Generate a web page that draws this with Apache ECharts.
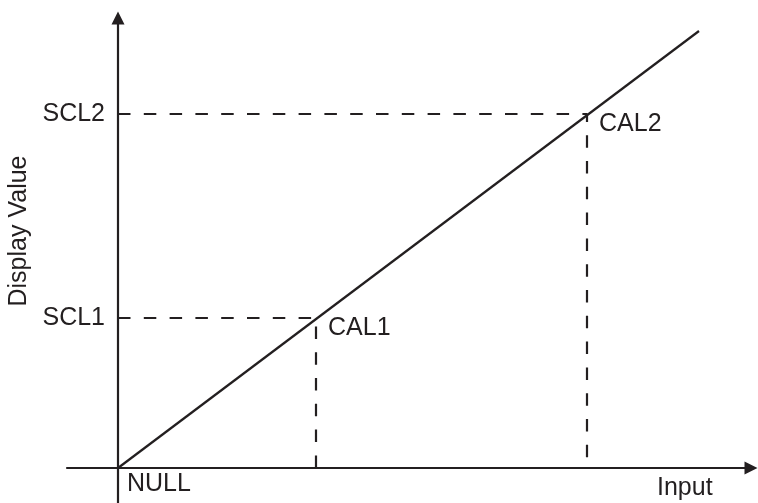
<!DOCTYPE html>
<html>
<head>
    <meta charset="utf-8">
    <title>Scaling</title>
    <script src="https://cdn.jsdelivr.net/npm/echarts@6/dist/echarts.min.js"></script>
    <style>
        html, body { margin: 0; padding: 0; background: #fff; }
        #chart { width: 758px; height: 503px; }
    </style>
</head>
<body>
<div id="chart"></div>
<script>
    // 数据 (任意单位, 原点 = NULL)
    var lineX = [0, 581];
    var lineY = [0, 437];
    var calInput = [198, 469];
    var sclValue = [150, 354];
    var calNames = ['CAL1', 'CAL2'];
    var sclNames = ['SCL1', 'SCL2'];

    var ink = '#231f20';
    var font = 'Liberation Sans, Arial, Helvetica, sans-serif';
    var lw = 2.2;

    var chart = echarts.init(document.getElementById('chart'), null, {renderer: 'canvas'});

    // 虚线: 从纵轴到标定点再到横轴
    var dashSeries = calInput.map(function (x, i) {
        return {
            type: 'line',
            data: [[0, sclValue[i]], [x, sclValue[i]], [x, 0]],
            symbol: 'none',
            silent: true,
            lineStyle: {color: ink, width: lw, type: [12.5, 13.3]},
            z: 2
        };
    });

    var option = {
        animation: false,
        grid: {left: 67, right: 7, top: 18, bottom: 0, containLabel: false, outerBoundsMode: 'none'},
        xAxis: {
            type: 'value',
            min: -51,
            max: 633,
            splitLine: {show: false},
            axisTick: {show: false},
            axisLabel: {show: false},
            axisLine: {
                onZero: true,
                symbol: ['none', 'triangle'],
                symbolSize: [13, 13],
                lineStyle: {color: ink, width: lw}
            }
        },
        yAxis: {
            type: 'value',
            min: -35,
            max: 450,
            splitLine: {show: false},
            axisTick: {show: false},
            axisLabel: {
                customValues: sclValue,
                formatter: function (v) {
                    return sclNames[sclValue.indexOf(v)];
                },
                color: ink,
                fontFamily: font,
                fontSize: 25,
                margin: -38
            },
            axisLine: {
                onZero: true,
                symbol: ['none', 'triangle'],
                symbolSize: [13, 13],
                lineStyle: {color: ink, width: lw}
            }
        },
        series: dashSeries.concat([
            {
                type: 'line',
                data: [[lineX[0], lineY[0]], [lineX[1], lineY[1]]],
                symbol: 'none',
                lineStyle: {color: ink, width: lw},
                z: 3
            },
            {
                type: 'scatter',
                data: calInput.map(function (x, i) { return [x, sclValue[i], calNames[i]]; }),
                symbolSize: 0,
                itemStyle: {opacity: 1},
                label: {
                    show: true,
                    position: 'right',
                    distance: 12,
                    offset: [0, 10],
                    formatter: function (p) { return p.data[2]; },
                    color: ink,
                    fontFamily: font,
                    fontSize: 25
                },
                z: 4
            }
        ]),
        graphic: [
            {
                type: 'text', x: 127, y: 484,
                style: {text: 'NULL', fill: ink, font: '25px ' + font, verticalAlign: 'middle'}
            },
            {
                type: 'text', x: 657, y: 488,
                style: {text: 'Input', fill: ink, font: '25px ' + font, verticalAlign: 'middle'}
            },
            {
                type: 'text', x: 19, y: 231, rotation: Math.PI / 2,
                style: {text: 'Display Value', fill: ink, font: '25px ' + font, align: 'center', verticalAlign: 'middle'}
            }
        ]
    };

    chart.setOption(option);
</script>
</body>
</html>
